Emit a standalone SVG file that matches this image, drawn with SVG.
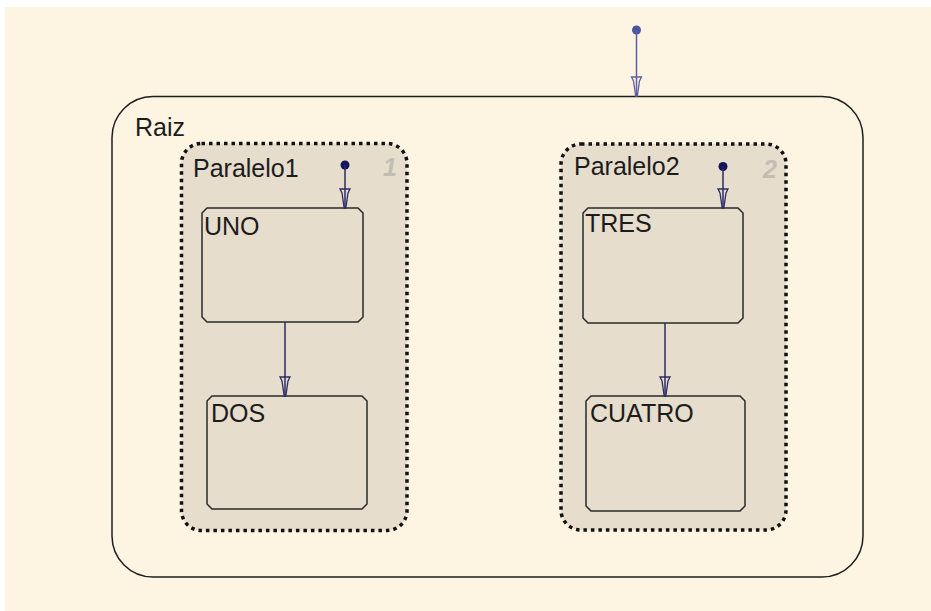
<svg xmlns="http://www.w3.org/2000/svg" width="931" height="611" viewBox="0 0 931 611">
<style>
text{font-family:"Liberation Sans",Arial,sans-serif;font-size:25px;fill:#1c1c1c}
.num{font-weight:bold;font-style:italic;fill:#c3beb5}
.outer{fill:none;stroke:#1e1e1e;stroke-width:1.5}
.par{fill:#e6ddcc;stroke:#111;stroke-width:3.5;stroke-dasharray:3.5 4}
.st{fill:#e6ddcc;stroke:#2a2a2a;stroke-width:1.5}
.tr{fill:none;stroke:#2b2b66;stroke-width:1.5;marker-end:url(#ah)}
.trtop{fill:none;stroke:#5a62a2;stroke-width:1.5;marker-end:url(#ahb)}
</style>
<defs>
<marker id="ah" markerUnits="userSpaceOnUse" markerWidth="24" markerHeight="14" refX="19" refY="0" viewBox="-2 -7 24 14" orient="auto">
<path d="M0,-5 L0,5 L4,3 L19,0.8 L19,-0.8 L4,-3 Z" fill="none" stroke="#2b2b66" stroke-width="1.3"/>
</marker>
<marker id="ahb" markerUnits="userSpaceOnUse" markerWidth="24" markerHeight="14" refX="19" refY="0" viewBox="-2 -7 24 14" orient="auto">
<path d="M0,-5 L0,5 L4,3 L19,0.8 L19,-0.8 L4,-3 Z" fill="none" stroke="#5a62a2" stroke-width="1.3"/>
</marker>
</defs>
<rect x="0" y="0" width="931" height="611" fill="#ffffff"/>
<rect x="5" y="7" width="926" height="604" fill="#fdf4e2"/>

<g id="Raiz">
<rect class="outer" x="112" y="96.5" width="751" height="480.5" rx="41" ry="41"/>
<text x="135" y="136">Raiz</text>
</g>

<g id="Paralelo1">
<rect class="par" x="181.5" y="143.5" width="225.5" height="387" rx="20" ry="20"/>
<text x="193" y="177">Paralelo1</text>
<text class="num" x="397" y="176" text-anchor="end">1</text>
</g>

<g id="Paralelo2">
<rect class="par" x="561" y="144" width="225" height="386" rx="20" ry="20"/>
<text x="574" y="175">Paralelo2</text>
<text class="num" x="777" y="178" text-anchor="end">2</text>
</g>

<g id="UNO">
<path class="st" d="M207,208 H358 L363,213 V317 L358,322 H207 L202,317 V213 Z"/>
<text x="204" y="235">UNO</text>
</g>

<g id="DOS">
<path class="st" d="M212,396 H362 L367,401 V504 L362,509 H212 L207,504 V401 Z"/>
<text x="211" y="422">DOS</text>
</g>

<g id="TRES">
<path class="st" d="M588,208 H738 L743,213 V318 L738,323 H588 L583,318 V213 Z"/>
<text x="585" y="232">TRES</text>
</g>

<g id="CUATRO">
<path class="st" d="M591,396 H740 L745,401 V506 L740,511 H591 L586,506 V401 Z"/>
<text x="590" y="422">CUATRO</text>
</g>

<g id="connectors">
<circle cx="636.5" cy="30" r="4.5" fill="#4a55a0"/>
<path class="trtop" d="M636.5,30 V96"/>
<circle cx="345" cy="165" r="4.5" fill="#14145a"/>
<path class="tr" d="M345,165 V208"/>
<circle cx="723" cy="166.5" r="4.5" fill="#14145a"/>
<path class="tr" d="M723,166.5 V208"/>
<path class="tr" d="M285,322 V396"/>
<path class="tr" d="M665,323 V396"/>
</g>
</svg>
